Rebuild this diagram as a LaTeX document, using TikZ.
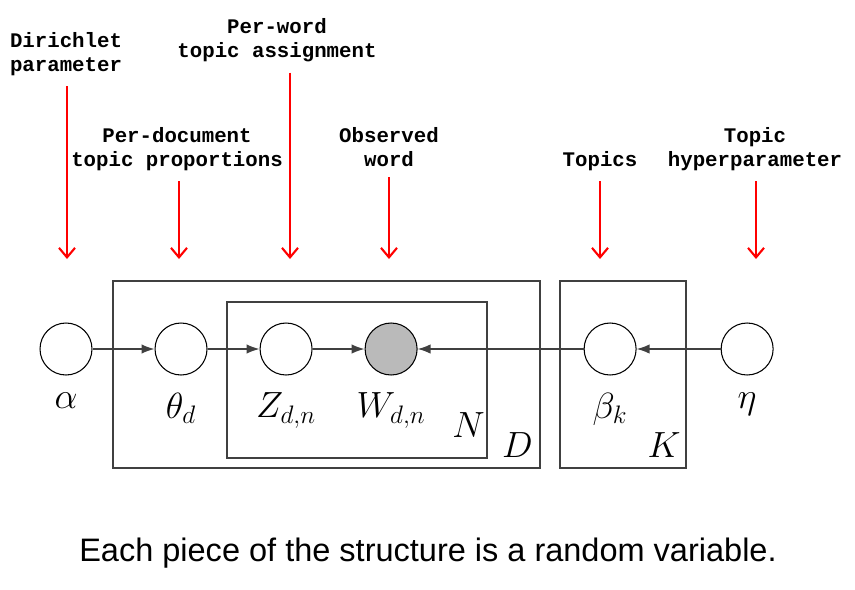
\documentclass[tikz,border=0pt]{standalone}
\usepackage{fontspec}
\usepackage{tikz}
\usetikzlibrary{arrows.meta,positioning}
\newfontfamily\tagfont{Liberation Mono}
\newfontfamily\notefont{Liberation Sans}
\DeclareMathSizes{20.74}{20.74}{14.4}{12}

\begin{document}
\begin{tikzpicture}[
      x=0.02cm, y=-0.02cm,
      node distance=1.04cm,
      var/.style={circle, draw=black, line width=0.6pt, fill=white, minimum size=1.04cm, inner sep=0pt},
      obs/.style={var, fill=black!27},
      mathlbl/.style={font=\huge, inner sep=0pt},
      plate/.style={draw=black!75, line width=0.75pt},
      edge/.style={-{Latex[length=2.6mm,width=1.9mm]}, line width=0.85pt, draw=black!75},
      tag/.style={font=\tagfont\bfseries\fontsize{11.8}{13.9}\selectfont, align=center, inner sep=0pt, anchor=north},
      pointer/.style={-{Straight Barb[length=1.9mm,width=3.2mm]}, red, line width=1.2pt, shorten <=0.2cm}
    ]
      \useasboundingbox (0,0) rectangle (855,589);
      \draw[plate] (113,281) rectangle (540,468);
      \draw[plate] (227,302) rectangle (487,458);
      \draw[plate] (560,281) rectangle (686,468);
      \node[var] (alpha) at (66,349) {};
      \node[var, right=1.24cm of alpha] (theta) {};
      \node[var, right=of theta] (z) {};
      \node[obs, right=of z] (w) {};
      \node[var, right=3.32cm of w] (beta) {};
      \node[var, right=1.68cm of beta] (eta) {};
      \node[mathlbl, below=0.34cm of alpha] (alphalbl) {$\alpha$};
      \node[mathlbl, below=0.34cm of theta] (thetalbl) {$\theta_d$};
      \node[mathlbl, below=0.34cm of z] (zlbl) {$Z_{d,n}$};
      \node[mathlbl, below=0.34cm of w] (wlbl) {$W_{d,n}$};
      \node[mathlbl, below=0.34cm of beta] (betalbl) {$\beta_k$};
      \node[mathlbl, below=0.34cm of eta] (etalbl) {$\eta$};
      \node[mathlbl, anchor=base east] (nlbl) at (485,437) {$N$};
      \node[mathlbl, anchor=base east] (dlbl) at (533,457) {$D$};
      \node[mathlbl, anchor=base east] (klbl) at (681,457) {$K$};
      \draw[edge] (alpha) -- (theta);
      \draw[edge] (theta) -- (z);
      \draw[edge] (z) -- (w);
      \draw[edge] (beta) -- (w);
      \draw[edge] (eta) -- (beta);
      \node[tag] (dir) at (66,32) {Dirichlet\\parameter};
      \node[tag] (perdoc) at (177,127) {Per-document\\topic proportions};
      \node[tag] (perword) at (277,18) {Per-word\\topic assignment};
      \node[tag] (observed) at (389,127) {Observed\\word};
      \node[tag] (topics) at (600,151) {Topics};
      \node[tag] (hyper) at (755,127) {Topic\\hyperparameter};
      \coordinate (dirtip) at (67,259);
      \coordinate (perdoctip) at (179,259);
      \coordinate (perwordtip) at (290,259);
      \coordinate (observedtip) at (389,259);
      \coordinate (topicstip) at (600,259);
      \coordinate (hypertip) at (756,259);
      \draw[pointer] (dir.south -| dirtip) -- (dirtip);
      \draw[pointer] (perdoc.south -| perdoctip) -- (perdoctip);
      \draw[pointer] (perword.south -| perwordtip) -- (perwordtip);
      \draw[pointer] (observed.south -| observedtip) -- (observedtip);
      \draw[pointer] (topics.south -| topicstip) -- (topicstip);
      \draw[pointer] (hyper.south -| hypertip) -- (hypertip);
      \node[font=\notefont\fontsize{18.5}{21}\selectfont, anchor=base, inner sep=0pt] (caption) at (428,561) {Each piece of the structure is a random variable.};
    \end{tikzpicture}
\end{document}
